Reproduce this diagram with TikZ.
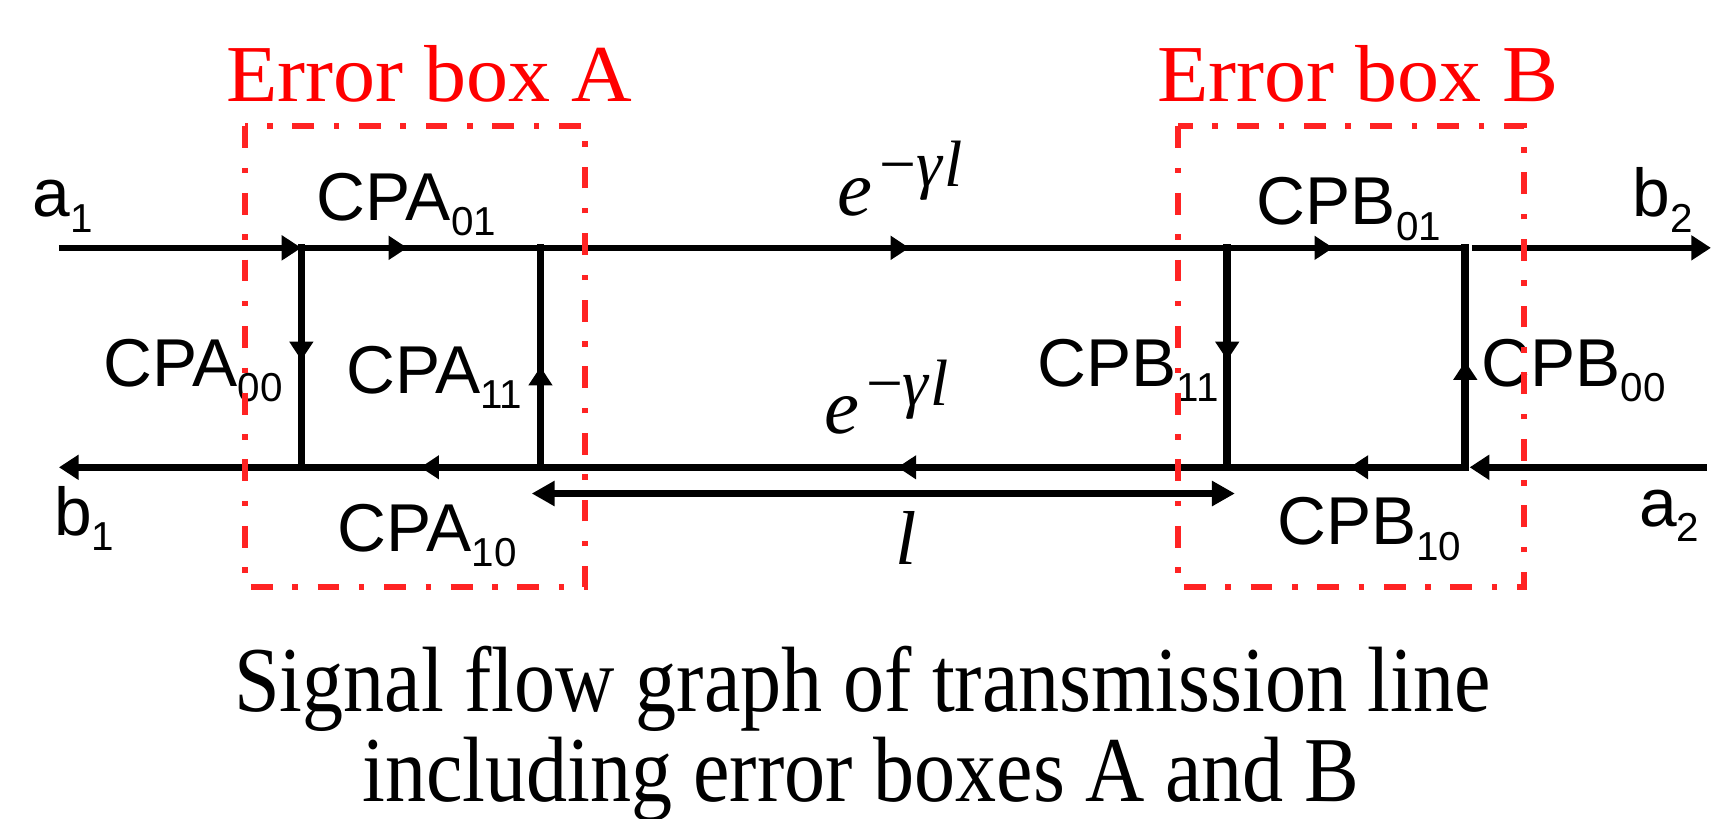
\documentclass[tikz,border=0pt]{standalone}
\usepackage{fontspec}
\setmainfont{Liberation Serif}
\newfontfamily\arialf{Liberation Sans}
\newfontfamily\capfont[FakeStretch=0.885]{Liberation Serif}
\newfontfamily\titfont[FakeStretch=1.04]{Liberation Serif}
\usetikzlibrary{arrows.meta,decorations.markings}
\definecolor{errred}{RGB}{255,35,35}
\newcommand\sublab[2]{\arialf\fontsize{62}{62}\selectfont #1\raisebox{-14pt}{\fontsize{37}{37}\selectfont #2}}
\newcommand\proplab{\itshape\fontsize{72}{72}\selectfont e\hspace{6pt}\raisebox{26pt}{\fontsize{60}{60}\selectfont \upshape −\itshape γ\hspace{2pt}l}}
\tikzset{
  sig/.style={line width=6pt, line cap=butt},
  vsig/.style={line width=7pt, line cap=rect},
  fwd/.style={-{Triangle[length=18pt,width=22pt]}},
  midarr/.style={postaction={decorate},decoration={markings,mark=at position #1 with {\arrow{Triangle[length=17pt,width=21pt]}}}},
  lab/.style={inner sep=0pt, anchor=base west},
  errbox/.style={draw=errred, line width=5.5pt, dash pattern=on 20pt off 18pt on 5pt off 18pt},
  errtitle/.style={text=red, inner sep=0pt, anchor=base, font=\titfont\fontsize{74}{74}\selectfont},
  mathlab/.style={inner sep=0pt, anchor=base west},
}
\begin{document}
\begin{tikzpicture}[x=1pt,y=-1pt]
\useasboundingbox (0,0) rectangle (1568,750);
% junctions
\coordinate (A0t) at (276,227);
\coordinate (A1t) at (495,227);
\coordinate (B1t) at (1124,227);
\coordinate (B0t) at (1342,227);
\coordinate (A0b) at (276,428);
\coordinate (A1b) at (495,428);
\coordinate (B1b) at (1124,428);
\coordinate (B0b) at (1342,428);
% free ends
\coordinate (a1s) at (54,227);
\coordinate (b1e) at (54,428);
\coordinate (b2s) at (1348,227);
\coordinate (b2e) at (1567,227);
\coordinate (a2s) at (1563,428);
\coordinate (a2e) at (1346,428);
\coordinate (dl) at (487,452);
\coordinate (dr) at (1131,452);

% top line
\draw[sig,fwd] (a1s) -- (A0t);
\draw[sig,midarr=0.443] (A0t) -- (A1t);
\draw[sig,midarr=0.537] (A1t) -- (B1t);
\draw[sig,midarr=0.445] (B1t) -- (B0t);
\draw[sig,fwd] (b2s) -- (b2e);
% bottom line
\draw[sig,fwd] (a2s) -- (a2e);
\draw[sig,midarr=0.486] (B0b) -- (B1b);
\draw[sig,midarr=0.480] (B1b) -- (A1b);
\draw[sig,midarr=0.502] (A1b) -- (A0b);
\draw[sig,fwd] (A0b) -- (b1e);
% verticals
\draw[vsig,midarr=0.512] (A0t) -- (A0b);
\draw[vsig,midarr=0.458] (A1b) -- (A1t);
\draw[vsig,midarr=0.512] (B1t) -- (B1b);
\draw[vsig,midarr=0.483] (B0b) -- (B0t);
% length
\draw[line width=6pt,{Triangle[length=21pt,width=22pt]}-{Triangle[length=21pt,width=22pt]}] (dl) -- (dr);

% labels
\node[lab] (la1) at (30,198.5) {\sublab{a}{1}};
\node[lab] (lb1) at (49.5,490) {\sublab{b}{1}};
\node[lab] (lcpa01) at (290,201.5) {\sublab{CPA}{01}};
\node[lab] (lcpa00) at (94.6,354) {\sublab{CPA}{00}};
\node[lab] (lcpa11) at (317,360) {\sublab{CPA}{11}};
\node[lab] (lcpa10) at (309,505) {\sublab{CPA}{10}};
\node[lab] (lcpb01) at (1151,206) {\sublab{CPB}{01}};
\node[lab] (lcpb11) at (950,354) {\sublab{CPB}{11}};
\node[lab] (lcpb00) at (1356.7,354) {\sublab{CPB}{00}};
\node[lab] (lcpb10) at (1169.6,499) {\sublab{CPB}{10}};
\node[lab] (lb2) at (1495,198.5) {\sublab{b}{2}};
\node[lab] (la2) at (1501,482) {\sublab{a}{2}};

\node[mathlab] (gtop) at (767,197) {\proplab};
\node[mathlab] (gbot) at (755,397) {\proplab};
\node[inner sep=0pt, anchor=base, font=\itshape\fontsize{70}{70}\selectfont] (len) at (829.5,517) {l};

% error boxes
\draw[errbox] (224.4,115.7) rectangle (536,537.3);
\draw[errbox] (1079,115.7) rectangle (1396,537.3);
\node[errtitle] (tA) at (393,93) {Error box A};
\node[errtitle] (tB) at (1244,93) {Error box B};

% caption
\node[inner sep=0pt, anchor=base, font=\capfont\fontsize{85}{85}\selectfont] (cap1) at (790,652) {Signal flow graph of transmission line};
\node[inner sep=0pt, anchor=base, font=\capfont\fontsize{85}{85}\selectfont] (cap2) at (788.5,734) {including error boxes A and B};
\end{tikzpicture}
\end{document}
